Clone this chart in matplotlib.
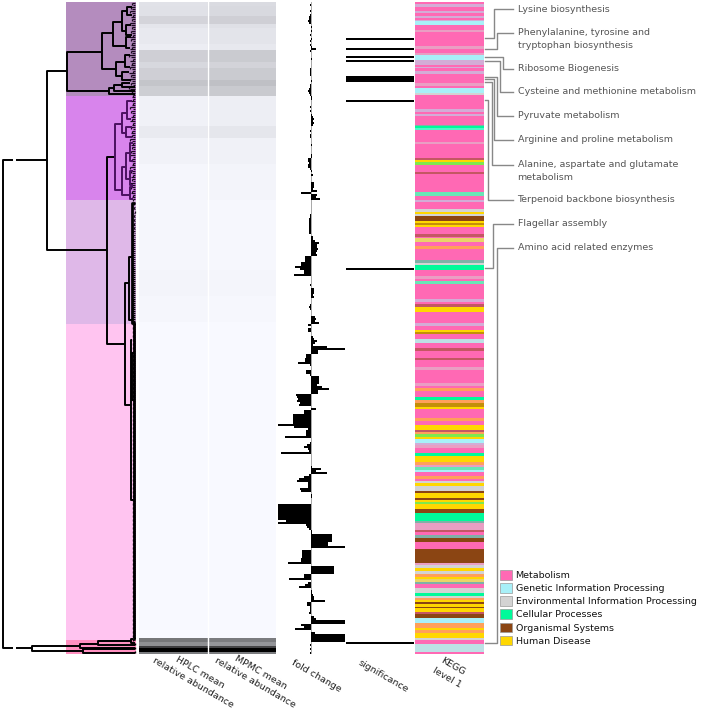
import numpy as np
import matplotlib
matplotlib.use("Agg")
import matplotlib.pyplot as plt
from matplotlib.colors import LinearSegmentedColormap, to_rgb
from matplotlib.collections import LineCollection
from matplotlib.patches import Patch

W, H = 701, 711
N_ROWS = 326

# ------------------------------------------------------------
# data
# ------------------------------------------------------------
cluster_rows = [(-0.5, 46.5), (46.5, 98.5), (98.5, 160.5), (160.5, 318.5), (318.5, 325.5)]
cluster_colors = ["#b48cbe", "#d884ec", "#dfb8e8", "#ffc4f0", "#ff90c0"]

# (distance, top row, top child distance, bottom row, bottom child distance)
links_black = [
    (132, 78.5, 88, 322.5, 103),
    (88, 34, 68, 123.5, 28),
    (68, 24.5, 33, 44, 26),
    (33, 15, 22, 33, 19),
    (22, 9.5, 13, 21.5, 9),
    (13, 4, 8, 14, 9),
    (8, 2, 3, 6, 3),
    (9, 11, 4, 16, 3),
    (9, 17, 4, 22.5, 5),
    (19, 29.5, 10, 36.5, 13),
    (10, 26, 5, 32, 5),
    (13, 34.5, 6, 38.5, 4),
    (26, 42.5, 21, 45.5, 0),
    (21, 41, 13, 44, 0),
    (13, 40, 5, 42, 0),
    (28, 77, 20, 170.5, 10),
    (10, 140, 6, 201, 4),
    (6, 127, 3, 158.5, 3),
    (4, 168.5, 3, 248.5, 1),
    (3, 175, 1, 198.5, 1),
    (103, 321.5, 55, 324, 52),
    (55, 320.5, 37, 322.5, 0),
    (37, 319, 4, 321, 0),
    (4, 318, 2, 320, 0),
    (52, 323, 0, 325, 0),
]
links_purple = [
    (20, 60.5, 13, 93.5, 13),
    (13, 55, 8, 65, 9),
    (8, 49, 3, 58, 4),
    (9, 62, 3, 67, 3),
    (13, 82, 9, 96, 5),
    (9, 75, 5, 88, 5),
    (5, 70, 2, 79, 2),
    (5, 84, 2, 91, 2),
    (5, 92, 2, 98, 2),
]
# the long ladder at the bottom of the tree
links_ladder = [(3, 100, 0, 160, 0), (1.5, 160, 0, 318, 0)]

leaf_dist_c1 = [3, 2, 4, 3, 5, 3, 2, 4, 3, 2, 5, 4, 3, 2, 4, 3, 2, 5, 4, 2, 3, 4, 3,
                5, 4, 3, 6, 4, 2, 5, 3, 4, 5, 3, 2, 6, 4, 3, 5, 3, 4, 2, 6, 5, 3, 4, 2]
leaf_dist_c2 = [3, 2, 4, 2, 3, 5, 2, 4, 3, 2, 4, 3, 5, 2, 3, 4, 2, 3, 4, 3, 2, 5, 3, 2, 4, 3,
                2, 4, 3, 5, 2, 3, 4, 2, 3, 5, 2, 4, 3, 2, 4, 3, 2, 5, 3, 4, 2, 3, 4, 2, 3, 2]
leaf_dist_c3 = [0.5, 1, 0.5, 1, 1, 0.5, 1, 1.5, 1, 1, 1.5, 1, 2, 1, 1.5, 2, 1, 2, 1.5, 2,
                2.5, 2, 3, 2, 2.5, 3, 2, 3, 2.5, 3, 2, 3, 3.5, 2, 3, 3, 2.5, 3, 2, 3,
                2, 2.5, 3, 2, 3, 2.5, 2, 3, 2, 2.5, 3, 2, 3, 2.5, 2, 3, 2, 2.5, 2, 3, 2]
leaf_dist_c4 = [2, 2.5, 2] * 52 + [2, 2]
leaf_dist_c5 = [2, 0, 0, 0, 0, 0, 0, 0]

hplc_lengths = [2, 5, 4, 2, 8, 3, 6, 3, 6, 3, 5, 15, 6, 13, 18, 35, 13, 13, 158, 2, 2, 1, 2, 1]
hplc_values = [.09, .097, .145, .08, .065, .05, .165, .13, .165, .21, .173,
               .035, .06, .03, .015, .012, .02, .012, .003, .52, .42, .75, 1.0, .5]
mpmc_values = [.12, .125, .165, .10, .085, .07, .185, .15, .185, .23, .19,
               .045, .075, .035, .02, .01, .016, .01, .003, .5, .4, .72, 1.0, .5]

fold_change = [
    .5, -.5, .3, .5, -.5, .5, -.5,
    -2, -2, -2.5, -2,
    .5, 1, .5, 1, .5,
    -.5, .5, 1, -.5, .5,
    -1, 1, 5, -1,
    .5, .5, .5, 1, .5,
    0, 0, 0, -1, -1, -.5,
    -1, .5, .5, 1, .5, -.5,
    -.5, -2, -2.5, -2, -.5,
    1, 1, .5, .5, .5, -.5,
    .5, -.5, .5, 1, 2, 3, 2, 3, 2, .5,
    .5, -.5, .5, -1, -1, .5, .3, .5,
    1, .5, .3, .3, .5, 1, 1,
    -3, -3, -2, -3, -3,
    -.5, 1, .5, 2, .5, .5, .5,
    3, 3, 3, 2,
    6, -10, 6, 5, 9, .5,
    .3, .5, .5, .5, .5, .5, -1, -1,
    -2, -2, -2, -2, -2, -2, -2, -2,
    .3, 2, 2, 4, 8, 6, 6, 7, 6, 5, 6,
    -6, -6, -6, -10, -10, -16, -11, -7, -7, -17,
    0, .3, .3, .3, -.3, .3,
    3, 3, 3, 2, 3,
    .5, .3, .3, -.5, -1.5, -.5, 0, .3,
    .5, 4, 5, 4, 8,
    -3, .3, -3, -3, .3, .5, 2, 3, 6, 4, 2, 16, 34, 7, 7,
    -5, -5, -6, -6, -13, -.5, .3, .3,
    -5, -5, -.5, 8, 8, 8, 8, 6, 11, 18, 7, 7,
    -15, -14, -13, -14, -11, -12, .5, 5,
    -7, -7, -18, -18, -18, -18, -18, -33, -17, -3,
    -5, -5, -5, -26, 0, .3, -1, -4, -7, -3, -2, -30,
    .3, .3, .3, .3, .3, .5, 1, 10, 5, 16,
    -2, -7, -12, -14, -3, -3, -3, -11, -10,
    .5, 1, 1, .5, .3, .3,
    -33, -33, -33, -33, -33, -33, -33, -33, -25, -33,
    -5, -4, -2, 1, 1,
    21, 21, 21, 21, 17, 17, 34, .3,
    -9, -9, -9, -9, -10, -10, -23,
    .3, 23, 23, 23, 23, -7, -7, -22,
    .3, -3, -6, -12, .5, 1, 1, 2, 3, 3, 14,
    -4, -4, -1, -1, -1, -2, .3, 3, 5,
    34, 34, -10, -7, -16,
    .3, 4, 34, 34, 34, 34,
    .3, -.3, .3, -.3, .3, -.5,
]

significant_rows = [18, 23, 27, 29, 37, 38, 39, 49, 133, 320]

kegg_names = ["Metabolism", "Genetic Information Processing",
              "Environmental Information Processing", "Cellular Processes",
              "Organismal Systems", "Human Disease"]
kegg_colors = {"M": "#ff69b4", "G": "#a8f0f8", "E": "#d3d3d3",
               "C": "#00fa9a", "O": "#8b4513", "H": "#ffd700"}

# level 1 class per stretch of the column; two letters = pathway in both classes
kegg_codes = [
    "M", "MG", "M", "MG", "M", "MG", "M", "MG", "G", "M", "ME", "M", "ME", "M", "ME", "G", "MG",
    "MG", "M", "MG", "M", "MG", "M", "ME", "M", "G", "E", "M", "MG", "M", "MG", "M", "CM", "C", "CG",
    "M", "ME", "M", "OM", "H", "CH", "M", "OM", "M", "CE", "M", "MG", "M", "E", "H", "E", "O",
    "H", "OH", "H", "M", "OM", "M", "HE", "M", "HM", "M", "CM", "E", "C", "M", "ME", "M", "CE",
    "M", "MG", "M", "OM", "H", "M", "MG", "M", "H", "OH", "M", "GE", "M", "OM", "M", "OM", "M",
    "ME", "M", "ME", "M", "HM", "M", "C", "HM", "OH", "H", "M", "HM", "M", "H",
    "OM", "HM", "CH", "H", "G", "MG", "ME", "M", "C", "H", "HM", "ME", "CE", "G", "M", "HM", "M",
    "E", "H", "E", "O", "H", "O", "H", "CH", "H", "O", "C", "CM", "ME", "ME", "OM", "M", "CM", "O",
    "M", "O", "ME", "E", "H", "E", "HM", "H", "HE", "CM", "M", "E", "C", "E", "HM", "H", "O",
    "H", "O", "H", "OM", "O", "G", "HM", "H", "HM", "H", "E", "M", "GE", "M",
]
kegg_stops = [
    4, 7, 11, 13, 16, 18, 20, 21, 25, 30, 32, 46, 49, 53, 55, 60, 62,
    65, 67, 68, 71, 74, 83, 86, 88, 93, 95, 109, 112, 114, 116, 125, 126, 128, 130,
    142, 144, 158, 160, 162, 165, 172, 174, 192, 196, 200, 202, 209, 212, 214, 216, 221,
    223, 225, 227, 234, 237, 238, 242, 246, 249, 260, 263, 265, 270, 276, 279, 281, 284,
    299, 302, 304, 307, 312, 323, 326, 330, 332, 334, 339, 343, 348, 351, 358, 360, 367,
    370, 383, 386, 388, 391, 397, 400, 403, 407, 409, 418, 421, 425, 430,
    432, 434, 437, 439, 443, 445, 448, 453, 456, 462, 465, 467, 470, 472, 476, 479, 481,
    483, 486, 491, 493, 498, 500, 502, 504, 509, 513, 521, 523, 526, 530, 532, 535, 538, 542,
    549, 563, 565, 568, 571, 574, 577, 579, 582, 584, 588, 593, 596, 598, 600, 602, 604,
    607, 608, 612, 614, 618, 623, 628, 630, 633, 638, 640, 644, 652, 654,
]

callout_labels = ["Lysine biosynthesis", "Phenylalanine, tyrosine and\ntryptophan biosynthesis",
                  "Ribosome Biogenesis", "Cysteine and methionine metabolism",
                  "Pyruvate metabolism", "Arginine and proline metabolism",
                  "Alanine, aspartate and glutamate\nmetabolism", "Terpenoid backbone biosynthesis",
                  "Flagellar assembly", "Amino acid related enzymes"]

column_labels = ["HPLC mean\nrelative abundance", "MPMC mean\nrelative abundance",
                 "fold change", "significance", "KEGG\nlevel 1"]


# ------------------------------------------------------------
# helpers
# ------------------------------------------------------------
def row_axes(x0, x1):
    ax = fig.add_axes([x0 / W, 1 - 654 / H, (x1 - x0) / W, 652 / H])
    ax.set_ylim(N_ROWS - 0.5, -0.5)
    ax.axis("off")
    return ax


def link_segments(links):
    segs = []
    for d, top, d_top, bot, d_bot in links:
        segs.append([(d_top, top), (d, top), (d, bot), (d_bot, bot)])
    return segs


def kegg_rgb(code):
    return np.mean([to_rgb(kegg_colors[c]) for c in code], axis=0)


fig = plt.figure(figsize=(W / 100, H / 100), dpi=100)

# ------------------------------------------------------------
# dendrogram with cluster shading
# ------------------------------------------------------------
ax = row_axes(0, 137)
ax.set_xlim(135, -2)
for (top, bot), col in zip(cluster_rows, cluster_colors):
    ax.barh((top + bot) / 2, 70, left=-1, height=bot - top, color=col, lw=0, zorder=0)

leaf_dist = leaf_dist_c1 + leaf_dist_c2 + leaf_dist_c3 + leaf_dist_c4 + leaf_dist_c5
leaf_segs = []
for r, d in enumerate(leaf_dist):
    leaf_segs.append([(d, r), (0, r)])
    if r % 2 == 0 and r + 1 < len(leaf_dist):
        leaf_segs.append([(d, r), (d, r + 1)])
ax.add_collection(LineCollection(leaf_segs[:200], colors="#1a0a20", linewidths=0.9, zorder=2))
ax.add_collection(LineCollection(leaf_segs[200:], colors="black", linewidths=1.0, zorder=2))
ax.add_collection(LineCollection(link_segments(links_black), colors="black", linewidths=1.4, zorder=3))
ax.add_collection(LineCollection(link_segments(links_purple), colors="#4b1060", linewidths=1.4, zorder=3))
ax.add_collection(LineCollection(link_segments(links_ladder), colors="black", linewidths=2.0, zorder=3))
# broken branches next to the root
ax.plot([122.5, 119], [78.5, 78.5], color="white", lw=3, solid_capstyle="butt", zorder=4)
ax.plot([122.5, 119], [322.5, 322.5], color="white", lw=3, solid_capstyle="butt", zorder=4)

# ------------------------------------------------------------
# abundance heatmap
# ------------------------------------------------------------
gray_map = LinearSegmentedColormap.from_list("abund", ["#f8f9ff", "#000000"])
heat = np.column_stack([np.repeat(hplc_values, hplc_lengths), np.repeat(mpmc_values, hplc_lengths)])
ax = row_axes(139, 276)
ax.imshow(heat, aspect="auto", cmap=gray_map, vmin=0, vmax=1, interpolation="nearest",
          extent=(0, 2, N_ROWS - 0.5, -0.5))
ax.axvline(1, color="white", lw=1)

# ------------------------------------------------------------
# fold change and significance
# ------------------------------------------------------------
ax = row_axes(270, 350)
ax.set_xlim(-40.5, 39.5)
ax.axvline(0, color="#999999", lw=0.6, zorder=0)
ax.barh(np.arange(len(fold_change)), fold_change, height=0.85, color="black", lw=0)

ax = row_axes(346, 414)
ax.set_xlim(0, 1)
ax.barh(significant_rows, 1, height=1, color="black", lw=0)

# ------------------------------------------------------------
# KEGG level 1 column
# ------------------------------------------------------------
kegg_len = np.diff([2] + kegg_stops)
kegg_img = np.repeat(np.array([kegg_rgb(c) for c in kegg_codes]), kegg_len, axis=0)[:, None, :]
ax = row_axes(415, 484)
ax.imshow(kegg_img, aspect="auto", interpolation="antialiased", extent=(0, 1, N_ROWS - 0.5, -0.5))

# ------------------------------------------------------------
# callouts, labels, legend (pixel overlay)
# ------------------------------------------------------------
over = fig.add_axes([0, 0, 1, 1], facecolor="none")
over.set_xlim(0, W)
over.set_ylim(H, 0)
over.axis("off")

start_y = [38, 49, 56.5, 60.5, 77, 79, 82, 100, 268, 643]
elbow_x = [494, 497, 503, 500, 497, 494, 492, 488, 493, 497]
end_y = [9, 33, 68.5, 92, 116, 140, 165, 200, 224, 248]
for label, y0, xe, y1 in zip(callout_labels, start_y, elbow_x, end_y):
    over.plot([485, xe, xe, 513], [y0, y0, y1, y1], color="#888888", lw=1)
    y_txt = y1 + 6 if "\n" in label else y1
    over.text(517.5, y_txt, label, fontsize=6.8, color="#555555", va="center", ha="left", linespacing=1.45)

label_pos = [(196.5, 678), (258, 678), (316.5, 676), (383, 676), (450, 672)]
for label, (lx, ly) in zip(column_labels, label_pos):
    over.text(lx, ly, label, rotation=-30, rotation_mode="anchor", ha="center", va="center",
              multialignment="center", fontsize=6.8, color="#222222", linespacing=1.45)

handles = [Patch(facecolor=kegg_colors[k], edgecolor="#999999", lw=0.5) for k in "MGECOH"]
over.legend(handles, kegg_names, loc="upper left", bbox_to_anchor=(500 / W, 1 - 570 / H), frameon=False,
            fontsize=6.8, handlelength=1.25, handleheight=1.2, handletextpad=0.4, labelspacing=0.33,
            borderpad=0, borderaxespad=0, labelcolor="#111111")

fig.savefig("out.png", dpi=100)
plt.close(fig)
